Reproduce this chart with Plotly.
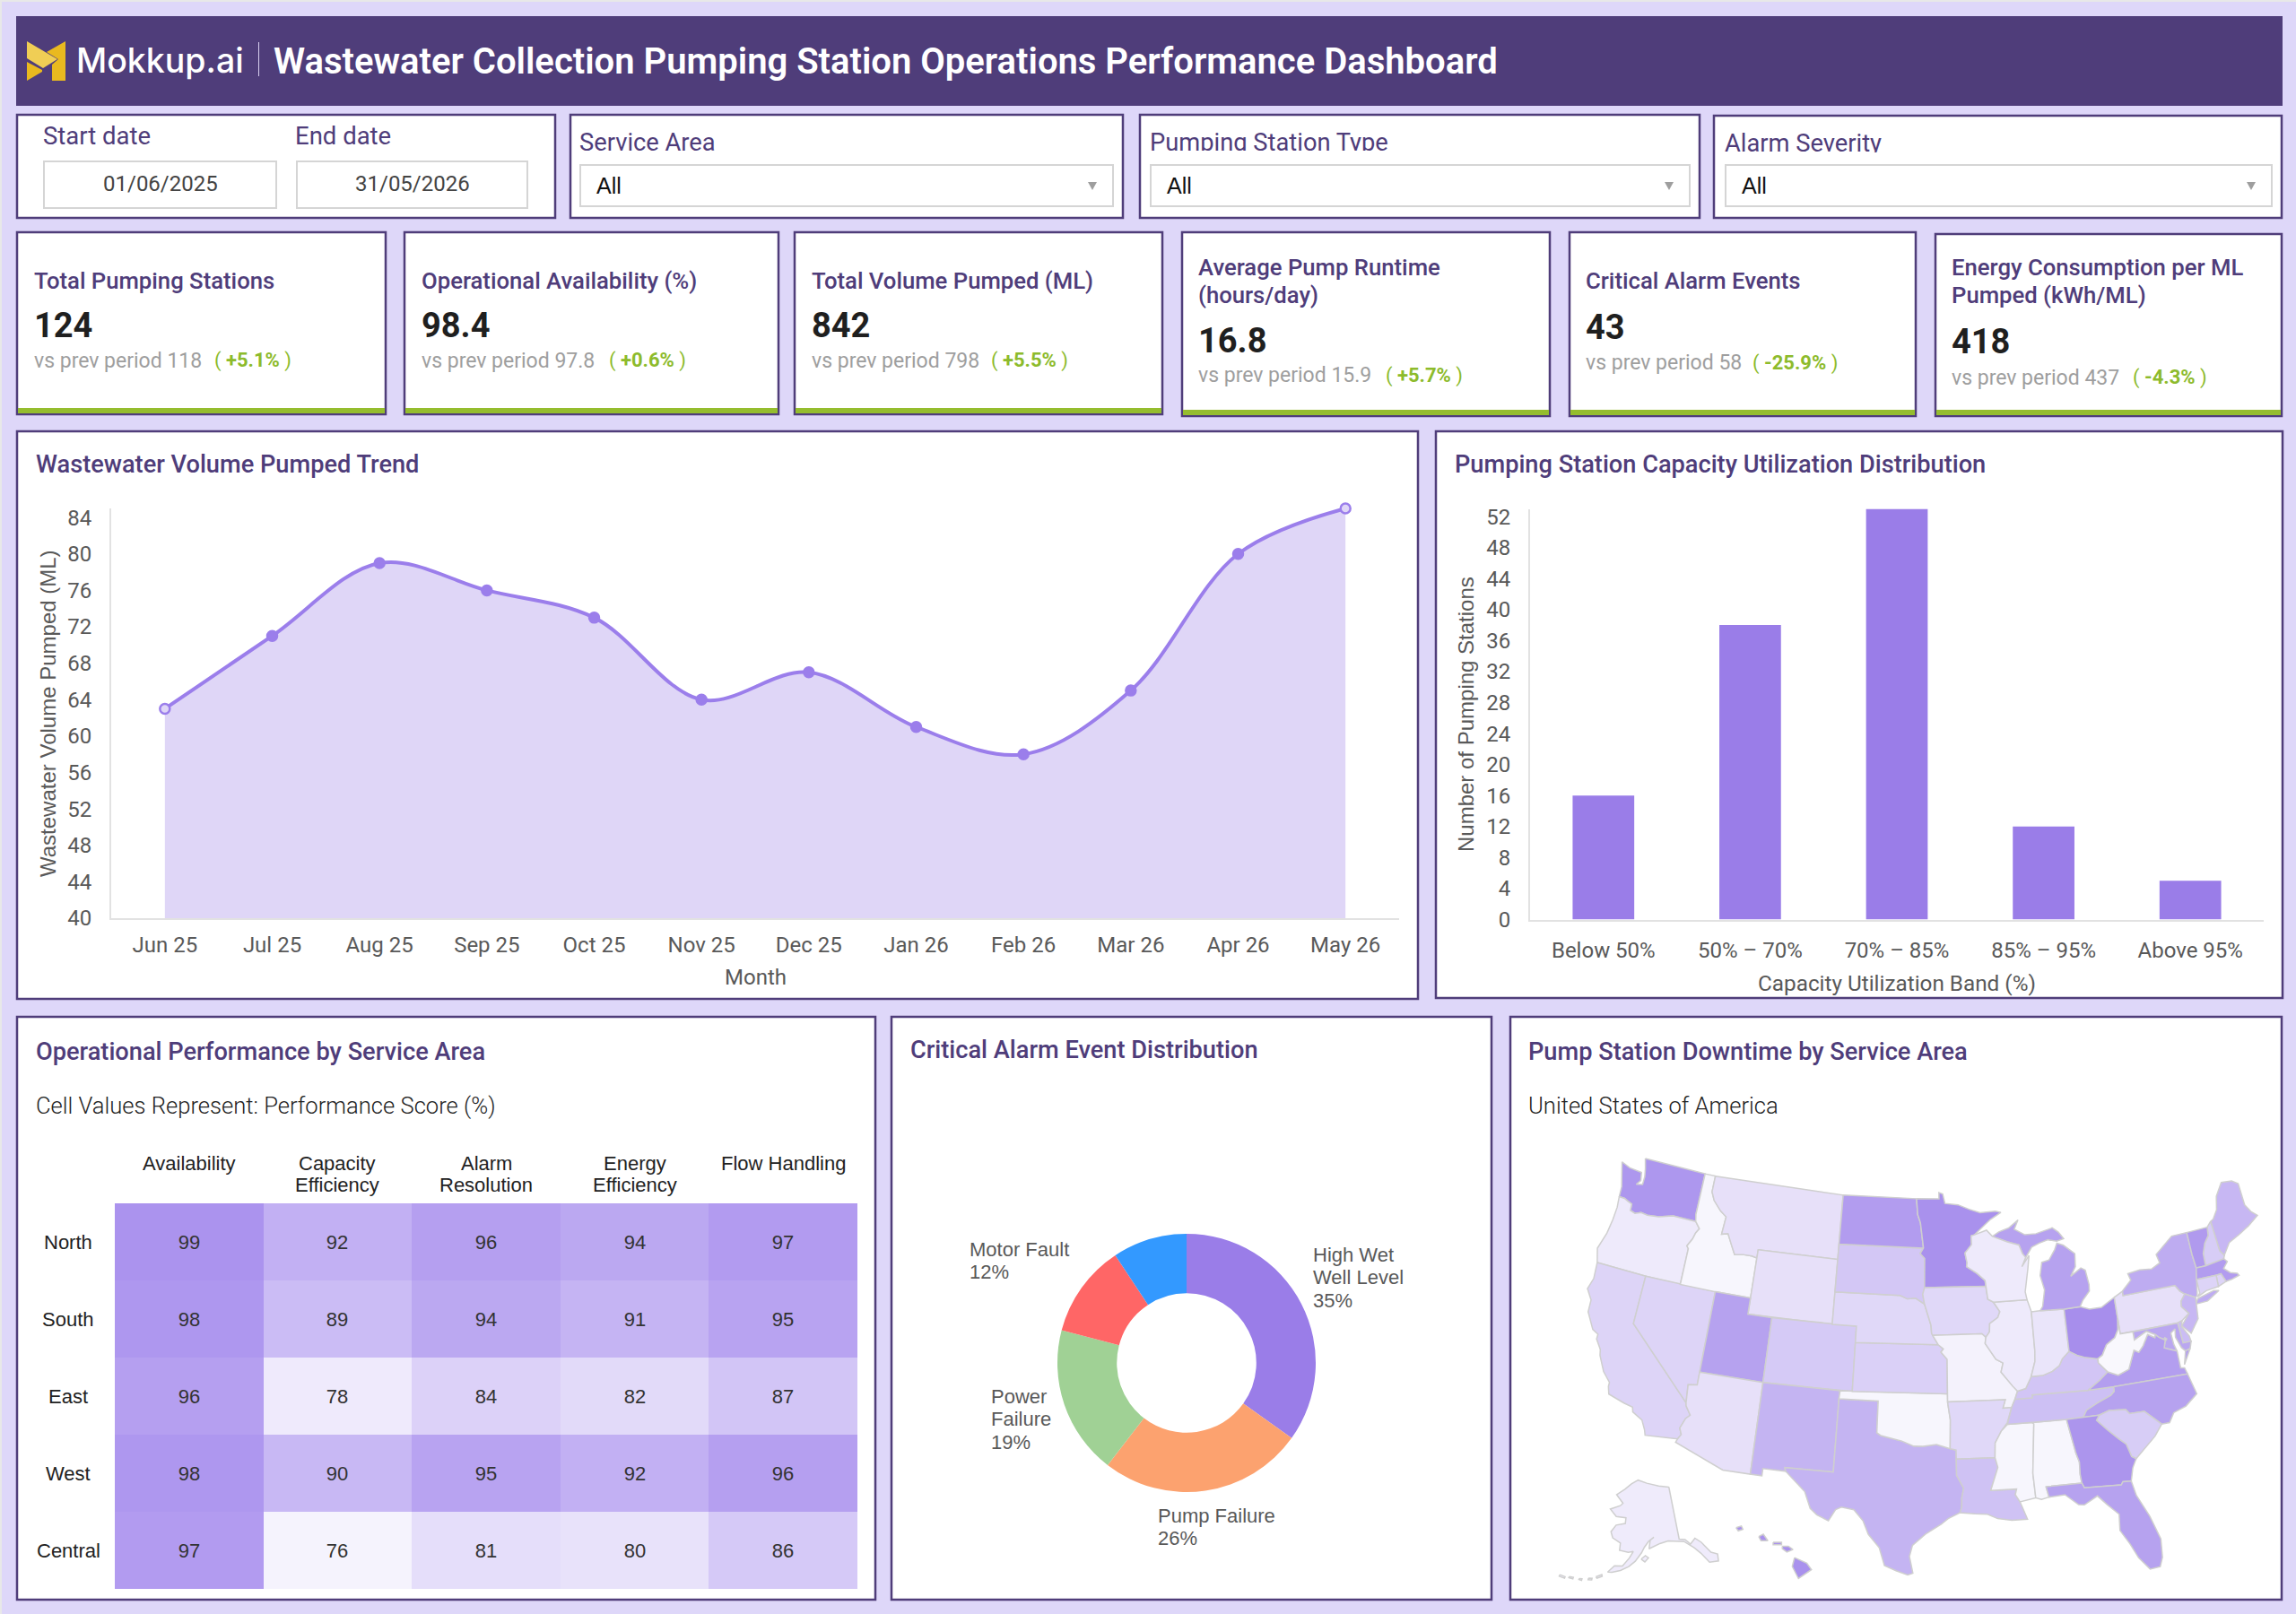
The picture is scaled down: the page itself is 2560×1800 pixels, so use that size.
import math

import plotly.graph_objects as go

W, H = 2560, 1800
PAGE = "#DED7F9"
INK = "#4F3D7A"
PURPLE = "#9B7EEB"
FILL = "#DFD6F7"
AXIS = "#E2E2E2"
GREY_TXT = "#595959"
GREEN = "#8DBB2C"
GREEN_BAR = "#95BD2E"

# KPI strip
kpi_titles = ["Total Pumping Stations", "Operational Availability (%)", "Total Volume Pumped (ML)",
              "Average Pump Runtime<br>(hours/day)", "Critical Alarm Events",
              "Energy Consumption per ML<br>Pumped (kWh/ML)"]
kpi_values = ["124", "98.4", "842", "16.8", "43", "418"]
kpi_prev = ["118", "97.8", "798", "15.9", "58", "437"]
kpi_delta = ["+5.1%", "+0.6%", "+5.5%", "+5.7%", "-25.9%", "-4.3%"]

# Monthly volume
months = ["Jun 25", "Jul 25", "Aug 25", "Sep 25", "Oct 25", "Nov 25", "Dec 25", "Jan 26", "Feb 26",
          "Mar 26", "Apr 26", "May 26"]
volume = [63, 71, 79, 76, 73, 64, 67, 61, 58, 65, 80, 85]

# Utilisation bands
bands = ["Below 50%", "50% – 70%", "70% – 85%", "85% – 95%", "Above 95%"]
band_counts = [16, 38, 53, 12, 5]

# Score matrix
areas = ["North", "South", "East", "West", "Central"]
measures = ["Availability", "Capacity<br>Efficiency", "Alarm<br>Resolution", "Energy<br>Efficiency", "Flow Handling"]
scores = [[99, 92, 96, 94, 97],
          [98, 89, 94, 91, 95],
          [96, 78, 84, 82, 87],
          [98, 90, 95, 92, 96],
          [97, 76, 81, 80, 86]]

# Alarm causes
alarm_causes = ["High Wet<br>Well Level", "Pump Failure", "Power<br>Failure", "Motor Fault", "Other"]
alarm_counts = [15, 11, 8, 5, 4]
alarm_colors = ["#9A7DE8", "#FCA26F", "#A0D195", "#FF6666", "#3399FF"]

# Downtime per state
state_codes = ["WA", "OR", "CA", "NV", "ID", "MT", "WY", "UT", "CO", "AZ", "NM", "TX", "OK", "KS", "NE", "SD", "ND",
               "MN", "IA", "MO", "AR", "LA", "MS", "AL", "TN", "KY", "IL", "IN", "OH", "MI", "WI", "PA", "NY", "NJ",
               "DE", "MD", "DC", "VA", "WV", "NC", "SC", "GA", "FL", "ME", "NH", "VT", "MA", "RI", "CT", "AK", "HI"]
state_downtime = [90, 13, 33, 33, 2, 22, 22, 80, 43, 22, 63, 63, 2, 37, 30, 45, 85,
                  95, 30, 6, 30, 50, 2, 2, 52, 47, 13, 18, 98, 80, 13, 22, 70, 60,
                  55, 75, 40, 83, 0, 80, 40, 92, 80, 60, 40, 87, 85, 33, 33, 12, 95]

# Simplified state outlines, as lon/lat rings
state_outlines = {
    "WA": [[(-122.76,49.0),(-117.03,49.0),(-117.04,46.42),(-116.92,45.99),(-118.98,46.0),(-119.3,45.93),(-120.2,45.73),(-121.2,45.65),(-121.8,45.7),(-122.3,45.55),(-122.76,45.65),(-122.8,46.05),(-123.2,46.15),(-123.55,46.26),(-124.05,46.27),(-124.1,46.9),(-124.4,47.6),(-124.73,48.38),(-123.9,48.17),(-123.1,48.15),(-122.75,48.1),(-122.6,47.6),(-122.9,47.3),(-122.35,47.4),(-122.35,47.9),(-122.5,48.4)]],
    "OR": [[(-124.05,46.27),(-123.55,46.26),(-123.2,46.15),(-122.8,46.05),(-122.76,45.65),(-122.3,45.55),(-121.8,45.7),(-121.2,45.65),(-120.2,45.73),(-119.3,45.93),(-118.98,46.0),(-116.92,45.99),(-116.46,45.6),(-116.7,45.3),(-116.85,44.9),(-117.2,44.4),(-117.03,44.25),(-117.03,42.0),(-120.0,42.0),(-124.21,42.0),(-124.55,42.84),(-124.15,43.9),(-124.0,44.8),(-123.95,45.6)]],
    "CA": [[(-124.21,42.0),(-120.0,42.0),(-120.0,39.0),(-114.63,35.0),(-114.57,34.8),(-114.14,34.3),(-114.43,34.05),(-114.72,33.4),(-114.52,33.03),(-114.72,32.72),(-117.12,32.53),(-117.25,32.85),(-117.6,33.4),(-118.4,33.75),(-118.5,34.03),(-119.2,34.15),(-120.47,34.45),(-120.65,34.9),(-120.65,35.15),(-121.3,35.7),(-121.9,36.6),(-122.0,36.95),(-122.5,37.5),(-122.5,37.8),(-123.0,38.0),(-123.75,38.95),(-123.8,39.7),(-124.35,40.3),(-124.1,41.0)]],
    "NV": [[(-120.0,42.0),(-114.04,42.0),(-114.05,37.0),(-114.05,36.2),(-114.74,36.1),(-114.63,35.0),(-120.0,39.0)]],
    "ID": [[(-117.03,49.0),(-116.05,49.0),(-116.05,48.0),(-115.7,47.5),(-114.95,46.95),(-114.35,46.65),(-114.45,45.55),(-113.9,45.65),(-113.45,45.05),(-113.0,44.45),(-112.3,44.55),(-111.5,44.55),(-111.05,44.48),(-111.05,42.0),(-114.04,42.0),(-117.03,42.0),(-117.03,44.25),(-117.2,44.4),(-116.85,44.9),(-116.7,45.3),(-116.46,45.6),(-116.92,45.99),(-117.04,46.42)]],
    "MT": [[(-116.05,49.0),(-104.05,49.0),(-104.05,45.0),(-111.05,45.0),(-111.05,44.48),(-111.5,44.55),(-112.3,44.55),(-113.0,44.45),(-113.45,45.05),(-113.9,45.65),(-114.45,45.55),(-114.35,46.65),(-114.95,46.95),(-115.7,47.5),(-116.05,48.0)]],
    "WY": [[(-111.05,45.0),(-104.05,45.0),(-104.05,41.0),(-111.05,41.0)]],
    "UT": [[(-114.04,42.0),(-111.05,42.0),(-111.05,41.0),(-109.05,41.0),(-109.05,37.0),(-114.05,37.0)]],
    "CO": [[(-109.05,41.0),(-102.05,41.0),(-102.05,37.0),(-109.05,37.0)]],
    "AZ": [[(-114.05,37.0),(-109.05,37.0),(-109.05,31.33),(-111.07,31.33),(-114.82,32.5),(-114.72,32.72),(-114.52,33.03),(-114.72,33.4),(-114.43,34.05),(-114.14,34.3),(-114.57,34.8),(-114.63,35.0),(-114.74,36.1),(-114.05,36.2)]],
    "NM": [[(-109.05,37.0),(-103.0,37.0),(-103.04,36.5),(-103.06,32.0),(-106.62,32.0),(-106.53,31.78),(-108.2,31.78),(-108.2,31.33),(-109.05,31.33)]],
    "TX": [[(-106.62,32.0),(-103.06,32.0),(-103.04,36.5),(-100.0,36.5),(-100.0,34.56),(-99.7,34.4),(-99.2,34.3),(-98.1,34.1),(-97.2,33.8),(-96.5,33.8),(-95.5,33.9),(-94.48,33.64),(-94.04,33.55),(-94.04,33.0),(-94.04,32.0),(-93.55,31.2),(-93.7,30.6),(-93.72,30.05),(-93.85,29.7),(-94.7,29.35),(-95.2,29.0),(-96.3,28.4),(-97.2,27.7),(-97.4,27.0),(-97.15,25.96),(-97.5,25.85),(-98.3,26.1),(-99.1,26.4),(-99.5,27.5),(-100.3,28.3),(-100.7,29.1),(-101.4,29.77),(-102.3,29.88),(-102.7,29.7),(-103.15,28.98),(-104.0,29.3),(-104.5,29.65),(-105.0,30.65),(-106.0,31.4),(-106.53,31.78)]],
    "OK": [[(-103.0,37.0),(-94.62,37.0),(-94.62,36.5),(-94.43,35.4),(-94.48,33.64),(-95.5,33.9),(-96.5,33.8),(-97.2,33.8),(-98.1,34.1),(-99.2,34.3),(-99.7,34.4),(-100.0,34.56),(-100.0,36.5),(-103.04,36.5)]],
    "KS": [[(-102.05,40.0),(-95.31,40.0),(-94.9,39.75),(-95.1,39.55),(-94.61,39.1),(-94.62,37.0),(-102.05,37.0)]],
    "NE": [[(-104.05,43.0),(-98.5,43.0),(-97.9,42.8),(-97.2,42.85),(-96.45,42.5),(-96.1,41.7),(-95.9,41.2),(-95.85,40.7),(-95.31,40.0),(-102.05,40.0),(-102.05,41.0),(-104.05,41.0)]],
    "SD": [[(-104.05,45.94),(-96.56,45.94),(-96.85,45.6),(-96.45,45.3),(-96.45,43.5),(-96.6,43.1),(-96.45,42.5),(-97.2,42.85),(-97.9,42.8),(-98.5,43.0),(-104.05,43.0)]],
    "ND": [[(-104.05,49.0),(-97.23,49.0),(-97.1,48.0),(-96.85,47.5),(-96.56,45.94),(-104.05,45.94)]],
    "MN": [[(-97.23,49.0),(-95.15,49.0),(-95.15,49.38),(-94.8,49.3),(-94.6,48.7),(-93.4,48.6),(-92.4,48.3),(-91.4,48.06),(-90.0,48.1),(-89.5,48.0),(-90.5,47.6),(-92.0,46.7),(-92.3,46.65),(-92.3,46.1),(-92.9,45.6),(-92.75,45.0),(-92.8,44.75),(-91.9,44.3),(-91.25,43.85),(-91.22,43.5),(-96.45,43.5),(-96.45,45.3),(-96.85,45.6),(-96.56,45.94),(-96.85,47.5),(-97.1,48.0)]],
    "IA": [[(-96.45,43.5),(-91.22,43.5),(-91.1,42.7),(-90.64,42.5),(-90.15,41.9),(-90.35,41.55),(-91.05,41.2),(-91.1,40.7),(-91.42,40.38),(-91.73,40.61),(-95.77,40.58),(-95.85,40.7),(-95.9,41.2),(-96.1,41.7),(-96.45,42.5),(-96.6,43.1)]],
    "MO": [[(-95.77,40.58),(-91.73,40.61),(-91.42,40.38),(-91.5,40.0),(-90.7,39.0),(-90.15,38.75),(-90.35,38.2),(-89.5,37.3),(-89.15,36.98),(-89.4,36.5),(-89.7,36.0),(-90.37,36.0),(-90.15,36.5),(-94.62,36.5),(-94.62,37.0),(-94.61,39.1),(-95.1,39.55),(-94.9,39.75),(-95.31,40.0)]],
    "AR": [[(-94.62,36.5),(-90.15,36.5),(-90.37,36.0),(-89.7,36.0),(-90.1,35.1),(-90.6,34.6),(-91.1,33.9),(-91.17,33.0),(-94.04,33.0),(-94.04,33.55),(-94.48,33.64),(-94.43,35.4)]],
    "LA": [[(-94.04,33.0),(-91.17,33.0),(-91.0,32.4),(-91.6,31.0),(-89.73,31.0),(-89.85,30.66),(-89.55,30.2),(-89.4,29.8),(-89.1,29.1),(-90.2,29.1),(-91.2,29.25),(-91.9,29.55),(-92.8,29.6),(-93.85,29.7),(-93.72,30.05),(-93.7,30.6),(-93.55,31.2),(-94.04,32.0)]],
    "MS": [[(-90.1,35.0),(-88.2,35.0),(-88.1,34.9),(-88.47,31.9),(-88.4,30.37),(-89.55,30.2),(-89.85,30.66),(-89.73,31.0),(-91.6,31.0),(-91.0,32.4),(-91.17,33.0),(-91.1,33.9),(-90.6,34.6)]],
    "AL": [[(-88.2,35.0),(-85.6,34.98),(-85.18,32.87),(-85.0,32.3),(-85.05,31.55),(-85.0,31.0),(-87.6,31.0),(-87.45,30.35),(-88.0,30.25),(-88.4,30.37),(-88.47,31.9),(-88.1,34.9)]],
    "TN": [[(-90.1,35.0),(-89.7,36.0),(-89.4,36.5),(-88.05,36.5),(-88.05,36.68),(-83.68,36.6),(-81.68,36.59),(-81.7,36.3),(-82.0,36.1),(-83.1,35.75),(-84.0,35.4),(-84.32,34.99),(-85.6,34.98),(-88.2,35.0)]],
    "KY": [[(-89.4,36.5),(-89.15,36.98),(-88.5,37.1),(-88.0,37.8),(-87.1,37.8),(-86.3,38.0),(-85.7,38.3),(-85.4,38.7),(-84.8,39.1),(-84.2,38.8),(-83.65,38.63),(-82.6,38.42),(-82.6,38.17),(-81.97,37.54),(-82.7,37.1),(-83.68,36.6),(-88.05,36.68),(-88.05,36.5)]],
    "IL": [[(-91.42,40.38),(-91.1,40.7),(-91.05,41.2),(-90.35,41.55),(-90.15,41.9),(-90.64,42.5),(-87.8,42.5),(-87.53,41.75),(-87.53,39.35),(-87.6,38.7),(-88.0,37.8),(-88.5,37.1),(-89.15,36.98),(-89.5,37.3),(-90.35,38.2),(-90.15,38.75),(-90.7,39.0),(-91.5,40.0)]],
    "IN": [[(-87.53,41.75),(-86.8,41.76),(-84.8,41.7),(-84.8,39.1),(-85.4,38.7),(-85.7,38.3),(-86.3,38.0),(-87.1,37.8),(-88.0,37.8),(-87.6,38.7),(-87.53,39.35)]],
    "OH": [[(-84.8,41.7),(-83.45,41.73),(-82.7,41.5),(-81.7,41.5),(-80.52,41.98),(-80.52,40.64),(-80.65,40.0),(-81.0,39.55),(-81.75,39.2),(-82.2,38.6),(-82.6,38.42),(-83.65,38.63),(-84.2,38.8),(-84.8,39.1)]],
    "MI": [[(-86.8,41.76),(-84.8,41.7),(-83.45,41.73),(-83.15,42.1),(-82.5,42.6),(-82.45,43.0),(-82.6,43.9),(-82.95,44.07),(-83.9,43.65),(-83.4,44.2),(-83.3,45.0),(-84.2,45.6),(-84.75,45.78),(-85.0,45.4),(-85.6,44.8),(-86.25,44.7),(-86.5,43.9),(-86.25,43.0),(-86.55,42.0)],
           [(-90.4,46.55),(-89.8,46.8),(-88.9,47.0),(-88.0,47.45),(-88.4,46.9),(-87.5,46.5),(-86.5,46.5),(-85.0,46.75),(-84.5,46.45),(-84.1,46.0),(-84.75,45.9),(-85.5,46.05),(-86.3,45.9),(-87.0,45.7),(-87.6,45.1),(-87.85,45.35),(-88.1,45.9),(-89.1,46.15)]],
    "WI": [[(-92.3,46.65),(-92.0,46.7),(-90.9,46.95),(-90.4,46.55),(-89.1,46.15),(-88.1,45.9),(-87.85,45.35),(-87.6,45.1),(-88.0,44.55),(-87.3,45.2),(-87.5,44.4),(-87.75,43.6),(-87.9,43.0),(-87.8,42.5),(-90.64,42.5),(-91.1,42.7),(-91.22,43.5),(-91.25,43.85),(-91.9,44.3),(-92.8,44.75),(-92.75,45.0),(-92.9,45.6),(-92.3,46.1)]],
    "PA": [[(-80.52,41.98),(-79.76,42.27),(-79.76,42.0),(-75.35,42.0),(-75.05,41.6),(-74.7,41.36),(-75.13,40.98),(-75.2,40.65),(-74.72,40.15),(-75.4,39.8),(-75.79,39.72),(-80.52,39.72),(-80.52,40.64)]],
    "NY": [[(-79.76,42.27),(-79.76,42.0),(-75.35,42.0),(-75.05,41.6),(-74.7,41.36),(-73.9,41.0),(-73.73,41.1),(-73.48,42.05),(-73.27,42.75),(-73.35,43.6),(-73.35,45.0),(-74.7,45.0),(-75.8,44.4),(-76.35,44.1),(-76.2,43.55),(-77.0,43.28),(-78.0,43.37),(-79.05,43.27),(-78.9,42.85)],
           [(-74.0,40.6),(-73.75,40.9),(-72.3,41.15),(-71.9,41.07),(-73.0,40.62)]],
    "NJ": [[(-74.7,41.36),(-75.13,40.98),(-75.2,40.65),(-74.72,40.15),(-75.5,39.5),(-74.9,38.93),(-74.1,39.7),(-74.0,40.4),(-73.9,41.0)]],
    "DE": [[(-75.79,39.72),(-75.4,39.8),(-75.55,39.45),(-75.1,38.8),(-75.05,38.45),(-75.7,38.46)]],
    "MD": [[(-79.48,39.72),(-75.79,39.72),(-75.7,38.46),(-75.05,38.45),(-75.25,38.03),(-75.65,37.95),(-75.9,38.2),(-76.2,38.9),(-76.1,39.4),(-76.5,39.2),(-76.45,38.5),(-76.3,38.05),(-77.0,38.3),(-77.25,38.4),(-77.05,38.85),(-77.5,39.1),(-77.75,39.3),(-78.4,39.6),(-79.48,39.2)]],
    "DC": [[(-77.12,38.93),(-77.04,39.0),(-76.91,38.9),(-77.04,38.79)]],
    "VA": [[(-83.68,36.6),(-81.68,36.59),(-75.87,36.55),(-76.0,36.95),(-76.3,37.0),(-76.3,37.5),(-76.3,38.05),(-77.0,38.3),(-77.25,38.4),(-77.05,38.85),(-77.5,39.1),(-77.75,39.3),(-77.83,39.13),(-78.35,39.4),(-78.87,38.77),(-79.3,38.42),(-79.65,38.6),(-80.3,37.5),(-81.2,37.25),(-81.97,37.54),(-82.7,37.1)],
           [(-75.65,37.95),(-75.25,38.03),(-75.95,37.15)]],
    "WV": [[(-80.52,40.64),(-80.52,39.72),(-79.48,39.72),(-79.48,39.2),(-78.4,39.6),(-77.75,39.3),(-77.83,39.13),(-78.35,39.4),(-78.87,38.77),(-79.3,38.42),(-79.65,38.6),(-80.3,37.5),(-81.2,37.25),(-81.97,37.54),(-82.6,38.17),(-82.6,38.42),(-82.2,38.6),(-81.75,39.2),(-81.0,39.55),(-80.65,40.0)]],
    "NC": [[(-84.32,34.99),(-84.0,35.4),(-83.1,35.75),(-82.0,36.1),(-81.7,36.3),(-81.68,36.59),(-75.87,36.55),(-75.5,35.25),(-76.5,34.65),(-77.5,34.4),(-77.95,33.85),(-78.55,33.85),(-79.67,34.8),(-80.8,34.82),(-81.05,35.1),(-82.3,35.2),(-83.1,35.0)]],
    "SC": [[(-83.1,35.0),(-82.3,35.2),(-81.05,35.1),(-80.8,34.82),(-79.67,34.8),(-78.55,33.85),(-79.2,33.2),(-79.9,32.7),(-80.85,32.03),(-81.15,32.2),(-81.4,33.0),(-81.9,33.4),(-82.6,34.0),(-83.35,34.7)]],
    "GA": [[(-85.6,34.98),(-84.32,34.99),(-83.1,35.0),(-83.35,34.7),(-82.6,34.0),(-81.9,33.4),(-81.4,33.0),(-81.15,32.2),(-80.85,32.03),(-81.2,31.5),(-81.45,30.72),(-82.05,30.75),(-82.2,30.57),(-84.86,30.7),(-85.0,31.0),(-85.05,31.55),(-85.0,32.3),(-85.18,32.87)]],
    "FL": [[(-87.6,31.0),(-85.0,31.0),(-84.86,30.7),(-82.2,30.57),(-82.05,30.75),(-81.45,30.72),(-81.25,29.8),(-80.55,28.4),(-80.05,26.9),(-80.15,25.75),(-80.4,25.2),(-81.1,25.15),(-81.75,25.95),(-82.2,26.9),(-82.75,27.8),(-82.65,28.8),(-83.4,29.5),(-84.0,30.1),(-85.0,29.65),(-85.4,29.7),(-86.3,30.4),(-87.45,30.35)]],
    "ME": [[(-71.08,45.3),(-70.8,45.4),(-70.3,45.9),(-70.0,46.7),(-69.23,47.45),(-68.3,47.35),(-67.8,47.07),(-67.8,45.7),(-67.45,45.2),(-67.0,44.85),(-68.0,44.4),(-69.0,44.05),(-70.0,43.75),(-70.7,43.07),(-70.98,43.4)]],
    "NH": [[(-71.5,45.01),(-71.08,45.3),(-70.98,43.4),(-70.7,43.07),(-70.82,42.87),(-72.46,42.73),(-72.4,43.5),(-72.05,44.1),(-71.6,44.5)]],
    "VT": [[(-73.35,45.0),(-71.5,45.01),(-71.6,44.5),(-72.05,44.1),(-72.4,43.5),(-72.46,42.73),(-73.27,42.75),(-73.35,43.6)]],
    "MA": [[(-73.48,42.05),(-73.27,42.75),(-72.46,42.73),(-70.82,42.87),(-70.6,42.65),(-71.05,42.3),(-70.6,41.95),(-70.05,41.8),(-69.95,41.65),(-70.65,41.53),(-71.13,41.5),(-71.38,42.02),(-71.8,42.02)]],
    "RI": [[(-71.8,42.02),(-71.38,42.02),(-71.13,41.5),(-71.85,41.32)]],
    "CT": [[(-73.48,42.05),(-71.8,42.02),(-71.85,41.32),(-72.9,41.25),(-73.73,41.0),(-73.48,41.2)]],
    "AK": [[(-141.0,69.65),(-141.0,60.3),(-139.0,60.0),(-137.5,59.0),(-135.5,59.8),(-133.8,58.8),(-131.8,56.6),(-130.0,55.9),(-130.5,54.7),(-133.2,55.0),(-135.0,57.0),(-136.6,58.2),(-139.5,59.7),(-142.0,60.0),(-145.0,60.3),(-148.0,60.0),(-149.5,59.7),(-151.9,59.2),(-151.4,60.7),(-150.0,61.2),(-152.0,60.5),(-153.5,59.5),(-154.5,58.5),(-156.5,57.0),(-158.5,56.0),(-161.0,55.2),(-163.5,54.7),(-164.8,54.6),(-163.0,55.9),(-160.5,56.0),(-158.5,57.5),(-157.3,58.7),(-159.0,58.5),(-162.0,58.7),(-162.0,60.0),(-165.0,60.7),(-166.0,61.7),(-164.5,63.0),(-161.0,63.5),(-161.0,64.5),(-165.0,64.5),(-168.0,65.6),(-164.0,66.5),(-163.0,67.0),(-166.5,68.3),(-163.0,69.5),(-160.0,70.6),(-156.6,71.35),(-152.0,70.8),(-146.0,70.15)],
           [(-154.6,57.4),(-153.2,58.0),(-152.2,57.6),(-153.4,56.9)],
           [(-168.0,53.4),(-166.4,54.0),(-166.2,53.7),(-167.6,53.2)],
           [(-170.0,52.9),(-169.0,53.0),(-169.0,52.7),(-170.0,52.6)],
           [(-172.6,52.4),(-171.8,52.5),(-171.8,52.2),(-172.6,52.2)],
           [(-175.5,52.2),(-174.3,52.3),(-174.3,52.0),(-175.5,52.0)],
           [(-178.2,51.95),(-176.6,51.95),(-176.6,51.65),(-178.2,51.65)]],
    "HI": [[(-155.9,20.25),(-155.1,19.9),(-154.8,19.5),(-155.65,18.95),(-156.05,19.7)],
           [(-156.7,20.95),(-156.3,20.95),(-156.0,20.75),(-156.4,20.6),(-156.7,20.8)],
           [(-158.25,21.55),(-157.95,21.7),(-157.65,21.3),(-158.1,21.3)],
           [(-159.75,22.1),(-159.4,22.2),(-159.3,22.0),(-159.6,21.9)],
           [(-157.3,21.2),(-156.75,21.2),(-156.75,21.05),(-157.3,21.05)]],
}


def conic(lon, lat, rotate, center_lat, lat1, lat2, center_lon=0.0):
    # conic equal-area in unit-sphere radians, y pointing down
    p1, p2 = math.radians(lat1), math.radians(lat2)
    n = (math.sin(p1) + math.sin(p2)) / 2
    c = math.cos(p1) ** 2 + 2 * n * math.sin(p1)

    def raw(lam, phi):
        rho = math.sqrt(c - 2 * n * math.sin(phi)) / n
        return rho * math.sin(n * lam), rho0 - rho * math.cos(n * lam)

    rho0 = math.sqrt(c) / n
    lon_r = math.radians(((lon + rotate + 180) % 360) - 180)
    x, y = raw(lon_r, math.radians(lat))
    x0, y0 = raw(math.radians(center_lon), math.radians(center_lat))
    return x - x0, -(y - y0)


def albers_usa(code, lon, lat):
    # the usual composite: contiguous states, with Alaska and Hawaii moved in as insets
    if code == "AK":
        x, y = conic(lon, lat, 154, 58.5, 55, 65, -2)
        return 0.35 * x - 0.307, 0.35 * y + 0.201
    if code == "HI":
        x, y = conic(lon, lat, 157, 19.9, 8, 18, -3)
        return x - 0.205, y + 0.212
    return conic(lon, lat, 96, 38.7, 29.5, 45.5, -0.6)


def downtime_color(value, lo=(249, 248, 253), hi=(165, 140, 236)):
    t = value / 100
    return "rgb(%d,%d,%d)" % tuple(round(a + (b - a) * t) for a, b in zip(lo, hi))


def fx(x):
    return x / W


def fy(y):
    return 1 - y / H


shapes, notes = [], []


def rect(x0, y0, x1, y1, fill="white", line=None, lw=0):
    shapes.append(dict(type="rect", xref="paper", yref="paper", x0=fx(x0), x1=fx(x1), y0=fy(y0), y1=fy(y1),
                       fillcolor=fill, line=dict(color=line or fill, width=lw), layer="below"))


def poly(points, fill):
    d = "M " + " L ".join(f"{fx(x):.5f} {fy(y):.5f}" for x, y in points) + " Z"
    shapes.append(dict(type="path", xref="paper", yref="paper", path=d, fillcolor=fill, line=dict(width=0), layer="below"))


def label(x, y, text, size, color, family="Roboto", weight=400, anchor="left", angle=0):
    notes.append(dict(xref="paper", yref="paper", x=fx(x - 2 if anchor == "left" else x), y=fy(y), text=text,
                      showarrow=False, xanchor=anchor, yanchor="middle", textangle=angle,
                      font=dict(size=size, color=color, family=family, weight=weight)))


def stacked(x, y, text, gap, size, color, family="Roboto", weight=400, anchor="left"):
    # lines are placed one by one so the leading can be tighter than plotly's default
    for k, line in enumerate(text.split("<br>")):
        label(x, y + k * gap, line, size, color, family, weight, anchor)


def panel(x0, y0, x1, y1):
    rect(x0 + 1, y0 + 1, x1 - 1, y1 - 1, "white", INK, 2.5)


# page frame and header
rect(0, 0, W, 2, "#E8E8E8")
rect(0, 0, 2, H, "#E8E8E8")
rect(18, 18, 2545, 118, INK)
poly([(30, 46), (64, 66), (48, 76), (30, 65)], "#F0CE55")
poly([(73, 46), (73, 90), (58, 90), (58, 72), (65, 66), (52, 58)], "#E9B91F")
poly([(30, 69), (47, 78), (47, 80), (30, 90)], "#E9B91F")
label(85, 67, "Mokkup.ai", 37.5, "white", family="Inter", weight=500)
rect(288, 47, 289, 85, "#D8D0F0")
label(305, 68.5, "Wastewater Collection Pumping Station Operations Performance Dashboard", 40, "white", weight=600)

# date and dropdown filters
panel(18, 127, 620, 244)
label(48, 151, "Start date", 27.5, INK)
label(329, 151, "End date", 27.5, INK)
for x0, x1, txt in [(48, 309, "01/06/2025"), (330, 589, "31/05/2026")]:
    rect(x0 + 1, 180, x1 - 1, 232, "white", "#D5D5D5", 2)
    label((x0 + x1) / 2, 205, txt, 24, "#444444", anchor="center")

filters = [(635, 1253, 128, 646, "Service Area", 159), (1270, 1896, 128, 1282, "Pumping Station Type", 159),
           (1910, 2545, 129, 1923, "Alarm Severity", 160)]
for x0, x1, top, tx, name, ty in filters:
    panel(x0, top - 1, x1, 244)
    rect(tx + 1, 184, x1 - 12, 230, "white", "#D5D5D5", 2)
    label(tx, ty, name, 27.3, INK)
    label(tx + 19, 207, "All", 25, "#111111", family="Liberation Sans")
    cx = x1 - 35
    poly([(cx - 5, 203), (cx + 5, 203), (cx, 212)], "#9E9E9E")

# the two longer captions run into the control underneath and lose their descenders
for x0, x1, y0 in [(1280, 1560, 168), (1921, 2130, 170)]:
    notes.append(dict(xref="paper", yref="paper", x=fx(x0), y=fy(y0), xanchor="left", yanchor="top", showarrow=False,
                      text=" ", bgcolor="white", width=x1 - x0, height=9, font=dict(size=6), borderpad=0, borderwidth=0))

# KPI cards
cards = [(18, 431, 258, 463, 38, 239), (450, 869, 258, 463, 470, 679), (885, 1297, 258, 463, 904.5, 1105),
         (1317, 1729, 258, 465, 1336, 1545), (1749, 2137, 258, 465, 1768, 1954), (2157, 2545, 260, 465, 2176, 2378)]
text_rows = [(313, 363, 402), (313, 363, 402), (313, 363, 402), (298.5, 380, 419), (313, 365, 405), (298.5, 381, 421)]
for i, (x0, x1, y0, y1, tx, dx) in enumerate(cards):
    panel(x0, y0, x1, y1)
    rect(x0 + 2, y1 - 8, x1 - 2, y1 - 2, GREEN_BAR)
    ty, vy, py = text_rows[i]
    stacked(tx, ty, kpi_titles[i], 30, 25.7, INK, weight=500)
    label(tx, vy, kpi_values[i], 38, "#1F1F1F", weight=700)
    label(tx, py, f"vs prev period {kpi_prev[i]}", 23, "#9E9E9E")
    label(dx, py, f"( <b>{kpi_delta[i]}</b> )", 22, GREEN)

# chart panels
panel(18, 480, 1582, 1115)
panel(1600, 480, 2546, 1114)
panel(18, 1133, 977, 1785)
panel(993, 1133, 1664, 1785)
panel(1683, 1133, 2545, 1785)
label(40, 518, "Wastewater Volume Pumped Trend", 27.2, INK, weight=500)
label(1622, 518, "Pumping Station Capacity Utilization Distribution", 27.2, INK, weight=500)
label(40, 1173, "Operational Performance by Service Area", 27.2, INK, weight=500)
label(1015, 1171, "Critical Alarm Event Distribution", 27.2, INK, weight=500)
label(1704, 1173, "Pump Station Downtime by Service Area", 27.2, INK, weight=500)
label(40, 1233, "Cell Values Represent: Performance Score (%)", 25.6, "#222222", weight=300)
label(1704, 1233, "United States of America", 25.6, "#222222", weight=300)

label(842, 1090, "Month", 24, GREY_TXT, anchor="center")
label(53, 796, "Wastewater Volume Pumped (ML)", 24, GREY_TXT, family="Liberation Sans", anchor="center", angle=-90)
label(2115, 1096, "Capacity Utilization Band (%)", 24.3, GREY_TXT, anchor="center")
label(1635, 797, "Number of Pumping Stations", 24, GREY_TXT, family="Liberation Sans", anchor="center", angle=-90)

fig = go.Figure()


def axis_box(n, x0, x1, y0, y1):
    return {f"xaxis{n}": dict(domain=[fx(x0), fx(x1)], anchor=f"y{n}"),
            f"yaxis{n}": dict(domain=[fy(y1), fy(y0)], anchor=f"x{n}")}


# volume trend
fig.add_trace(go.Scatter(x=months, y=volume, mode="lines+markers", fill="tozeroy", fillcolor=FILL,
                         line=dict(color=PURPLE, width=4, shape="spline", smoothing=1.0),
                         marker=dict(size=11, color=[FILL] + [PURPLE] * 10 + [FILL], line=dict(color=PURPLE, width=2.5)),
                         cliponaxis=False, xaxis="x", yaxis="y", showlegend=False))

# utilisation bars
fig.add_trace(go.Bar(x=bands, y=band_counts, width=0.42, marker=dict(color="#9A7DE8", line=dict(width=0)),
                     xaxis="x2", yaxis="y2", showlegend=False))

# performance matrix
fig.add_trace(go.Heatmap(z=scores, x=measures, y=areas, zmin=73, zmax=104, showscale=False,
                         colorscale=[[0, "#FFFFFF"], [1, PURPLE]], texttemplate="%{z}",
                         textfont=dict(size=22, color="#333333", family="Liberation Sans"),
                         hoverinfo="skip", xaxis="x3", yaxis="y3"))

# alarm donut
fig.add_trace(go.Pie(labels=alarm_causes, values=alarm_counts, hole=0.54, sort=False, direction="clockwise",
                     rotation=0, marker=dict(colors=alarm_colors, line=dict(width=0)), textinfo="none",
                     showlegend=False, domain=dict(x=[fx(1323 - 144), fx(1323 + 144)], y=[fy(1520 + 144), fy(1520 - 144)])))

# downtime map: the projected outlines are fitted so the lower 48 span the map area of the panel
MAP_LEFT, MAP_RIGHT, MAP_TOP = 1770, 2517, 1292
lower48 = [albers_usa(c, *p) for c in state_codes if c not in ("AK", "HI") for r in state_outlines[c] for p in r]
span_x = max(p[0] for p in lower48) - min(p[0] for p in lower48)
map_k = (MAP_RIGHT - MAP_LEFT) / span_x
map_dx = MAP_LEFT - map_k * min(p[0] for p in lower48)
map_dy = MAP_TOP - map_k * min(p[1] for p in lower48)
for code, minutes in zip(state_codes, state_downtime):
    xs, ys = [], []
    for ring in state_outlines[code]:
        pts = [albers_usa(code, *p) for p in ring + ring[:1]]
        xs += [map_dx + map_k * p[0] for p in pts] + [None]
        ys += [map_dy + map_k * p[1] for p in pts] + [None]
    fig.add_trace(go.Scatter(x=xs[:-1], y=ys[:-1], mode="lines", fill="toself", fillcolor=downtime_color(minutes),
                             line=dict(color="#CFCFCF", width=1.5), name=code, hoverinfo="name", showlegend=False,
                             xaxis="x4", yaxis="y4"))

for row in areas:
    notes.append(dict(xref="paper", yref="y3", x=fx(76), y=row, text=row, showarrow=False, xanchor="center",
                      font=dict(size=22, color="#222222", family="Liberation Sans")))
for col in measures:
    for k, line in enumerate(col.split("<br>")):
        notes.append(dict(xref="x3", yref="paper", x=col, y=fy(1297.5 + k * 24), text=line, showarrow=False,
                          yanchor="middle", font=dict(size=22, color="#222222", family="Liberation Sans")))

# donut captions
caption_spots = [(1464, 1399), (1291, 1690), (1105, 1557), (1081, 1393)]
total = sum(alarm_counts)
for (x, y), cause, count in zip(caption_spots, alarm_causes, alarm_counts):
    stacked(x, y, f"{cause}<br>{round(100 * count / total)}%", 25.5, 22, GREY_TXT, family="Liberation Sans")

layout = dict(width=W, height=H, margin=dict(l=0, r=0, t=0, b=0, autoexpand=False), paper_bgcolor=PAGE,
              plot_bgcolor="rgba(0,0,0,0)", shapes=shapes, annotations=notes, showlegend=False, bargap=0.58,
              font=dict(family="Roboto", color=GREY_TXT))
for n, box in [("", (124, 1560, 567, 1024)), ("2", (1706, 2524, 567.5, 1025.5)), ("3", (128, 956, 1342, 1772)),
               ("4", (1685, 2543, 1250, 1783))]:
    layout.update(axis_box(n, *box))

line_axis = dict(showline=True, linecolor=AXIS, linewidth=2, showgrid=False, zeroline=False, ticks="")
hidden_axis = dict(showticklabels=False, showgrid=False, zeroline=False, ticks="", showline=False)
layout["xaxis"].update(line_axis, type="category", range=[-0.5, 11.5], tickfont=dict(size=24, color=GREY_TXT), ticklabelstandoff=7)
layout["yaxis"].update(line_axis, range=[40, 85], tick0=40, dtick=4, tickfont=dict(size=24, color=GREY_TXT), ticklabelstandoff=15)
layout["xaxis2"].update(line_axis, type="category", tickfont=dict(size=24, color=GREY_TXT), ticklabelstandoff=12)
layout["yaxis2"].update(line_axis, range=[0, 53], tick0=0, dtick=4, tickfont=dict(size=24, color=GREY_TXT), ticklabelstandoff=15)
layout["xaxis3"].update(hidden_axis)
layout["yaxis3"].update(hidden_axis, autorange="reversed")
layout["xaxis4"].update(hidden_axis, range=[1685, 2543])
layout["yaxis4"].update(hidden_axis, range=[1783, 1250])

fig.update_layout(**layout)
fig.write_html("out.html", config=dict(displayModeBar=False))
